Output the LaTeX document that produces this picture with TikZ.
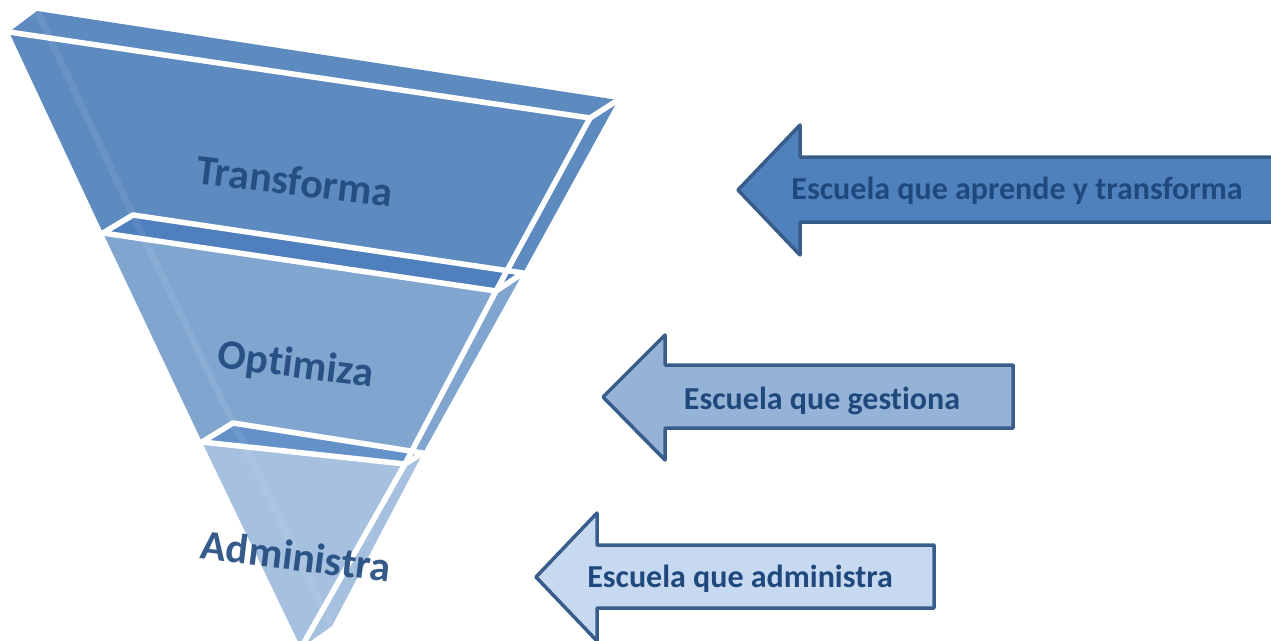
\documentclass[tikz,border=0pt]{standalone}
\usepackage{fontspec}
\setmainfont[Ligatures=NoCommon]{Carlito}
\definecolor{cA}{HTML}{5D8BC0}
\definecolor{cB}{HTML}{80A6D0}
\definecolor{cC}{HTML}{A6C0DF}
\definecolor{cBin}{HTML}{4F80BD}
\definecolor{cCin}{HTML}{6492C8}
\definecolor{arA}{HTML}{4F81BD}
\definecolor{arB}{HTML}{95B3D7}
\definecolor{arC}{HTML}{C6D9F1}
\definecolor{arLine}{HTML}{385D8A}
\definecolor{txt}{HTML}{1F497D}
\begin{document}
\begin{tikzpicture}[x=1pt,y=-1pt,
  wl/.style={white,line width=5.5pt,line join=round,line cap=round},
  streak/.style={white,opacity=0.07,line width=7pt},
  funtext/.style={text=txt,font=\fontsize{42}{48}\selectfont\bfseries,rotate=-7,inner sep=0pt,opacity=0.9},
  arrowshape/.style={draw=arLine,line width=3.5pt,line join=round},
  arrtext/.style={text=txt,font=\fontsize{32}{38}\selectfont\bfseries,inner sep=0pt}]
\useasboundingbox (0,0) rectangle (1271,640);
\clip (0,0) rectangle (1271,640);
% levels
\coordinate (FL0) at (9,32);   \coordinate (BL0) at (37,11);
\coordinate (BR0) at (618,100); \coordinate (FR0) at (590,118);
\coordinate (FL1) at (103,233); \coordinate (BL1) at (133,215);
\coordinate (BR1) at (523,273); \coordinate (FR1) at (496,291);
\coordinate (FL2) at (202,442); \coordinate (BL2) at (233,423);
\coordinate (BR2) at (423,453); \coordinate (FR2) at (405,464);
\coordinate (A) at (301,648);   \coordinate (AB) at (332,626);
% section 1
\fill[cA] (FL0)--(FR0)--(FR1)--(FL1)--cycle;
\fill[cA] (FR0)--(BR0)--(BR1)--(FR1)--cycle;
\fill[cA] (FL0)--(BL0)--(BR0)--(FR0)--cycle;
\draw[streak] (BL0)--(BL1);
\draw[wl] (FL0)--(FR0)--(BR0);
% section 2
\fill[cB] (FL1)--(FR1)--(FR2)--(FL2)--cycle;
\fill[cB] (FR1)--(BR1)--(BR2)--(FR2)--cycle;
\fill[cBin] (FL1)--(BL1)--(BR1)--(FR1)--cycle;
\draw[streak] (BL1)--(BL2);
\draw[wl] (FL1)--(BL1)--(BR1)--(FR1)--cycle;
% section 3
\fill[cC] (FL2)--(FR2)--(A)--cycle;
\fill[cC] (FR2)--(BR2)--(AB)--(A)--cycle;
\fill[cCin] (FL2)--(BL2)--(BR2)--(FR2)--cycle;
\draw[streak] (BL2)--(AB);
\draw[wl] (FL2)--(BL2)--(BR2)--(FR2)--cycle;
% front right edge
\draw[wl] (FR0)--(FR1)--(FR2)--(A);
% funnel labels
\node[funtext] (t1) at (295,181) {Transforma};
\node[funtext] (t2) at (296,366) {Optimiza};
\node[funtext] (t3) at (296,556) {Administra};
% arrows
\draw[arrowshape,fill=arA] (738,190)--(800,125)--(800,157)--(1290,157)--(1290,222)--(800,222)--(800,255)--cycle;
\draw[arrowshape,fill=arB] (603,397)--(665,335)--(665,365)--(1013,365)--(1013,428)--(665,428)--(665,460)--cycle;
\draw[arrowshape,fill=arC] (536,577)--(597,513)--(597,545)--(934,545)--(934,608)--(597,608)--(597,641)--cycle;
\node[arrtext] (a1) at (1017,191) {Escuela que aprende y transforma};
\node[arrtext] (a2) at (822,401) {Escuela que gestiona};
\node[arrtext] (a3) at (740,579) {Escuela que administra};
\end{tikzpicture}
\end{document}
